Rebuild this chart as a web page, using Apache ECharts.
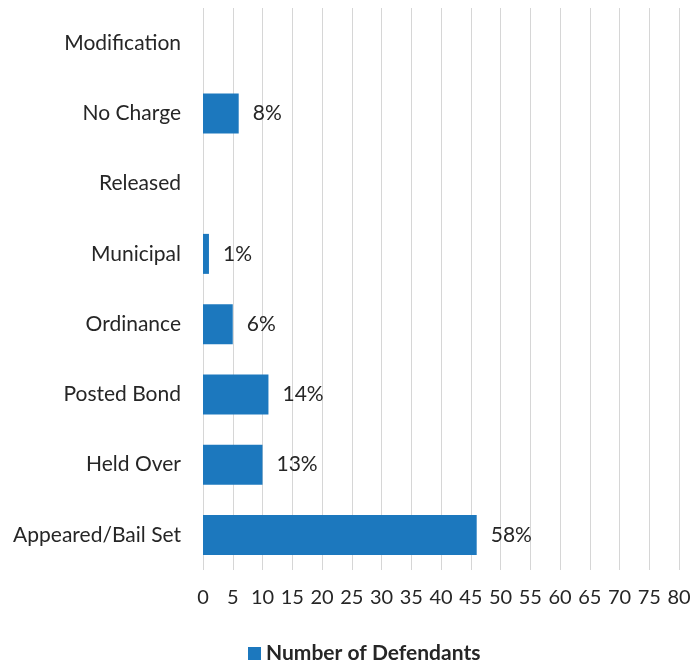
<!DOCTYPE html>
<html><head><meta charset="utf-8">
<script src="https://cdn.jsdelivr.net/npm/echarts@6/dist/echarts.min.js"></script>
<style>html,body{margin:0;padding:0;background:#fff}#c{width:694px;height:664px}</style>
</head><body><div id="c"></div>
<script>
const categories = ["Appeared/Bail Set","Held Over","Posted Bond","Ordinance","Municipal","Released","No Charge","Modification"];
const values = [46, 10, 11, 5, 1, 0, 6, 0];
const percentLabels = ["58%","13%","14%","6%","1%","","8%",""];
const seriesName = "Number of Defendants";

const chart = echarts.init(document.getElementById('c'));
const font = "Lato, 'Open Sans', sans-serif";
chart.setOption({
  animation: false,
  grid: {left: 203, right: 15, top: 8, height: 562},
  legend: {
    top: 638, left: 243, itemWidth: 13, itemHeight: 13,
    icon: 'rect', itemGap: 6,
    textStyle: {fontFamily: font, fontSize: 21, fontWeight: 'bold', color: '#262626'},
    data: [seriesName]
  },
  xAxis: {
    type: 'value', min: 0, max: 80, interval: 5,
    axisLine: {show: false}, axisTick: {show: false},
    splitLine: {show: true, lineStyle: {color: '#d6d6d6', width: 1}},
    axisLabel: {fontFamily: font, fontSize: 20, color: '#262626', margin: 18}
  },
  yAxis: {
    type: 'category', data: categories,
    axisLine: {show: false}, axisTick: {show: false},
    axisLabel: {fontFamily: font, fontSize: 21, color: '#262626', margin: 22}
  },
  series: [{
    name: seriesName, type: 'bar', data: values, barWidth: 40,
    itemStyle: {color: '#1c78be'},
    label: {
      show: true, position: 'right', distance: 14,
      fontFamily: font, fontSize: 21, color: '#262626',
      formatter: p => percentLabels[p.dataIndex]
    }
  }]
});
</script></body></html>
